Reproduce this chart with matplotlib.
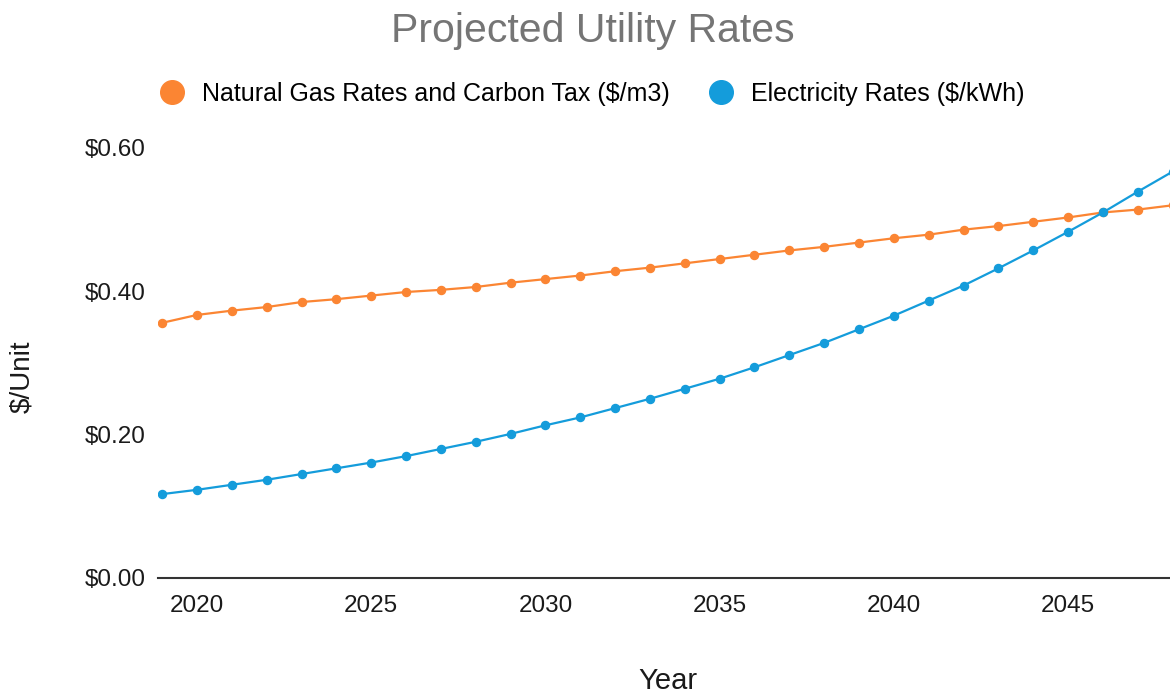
import numpy as np
import matplotlib
matplotlib.use("Agg")
from matplotlib import pyplot as plt
from matplotlib.ticker import FuncFormatter

# values
years = list(range(2019, 2049))
gas_rates = [0.356, 0.367, 0.373, 0.378, 0.385, 0.389, 0.394, 0.399, 0.402, 0.406,
             0.412, 0.417, 0.422, 0.428, 0.433, 0.439, 0.445, 0.451, 0.457, 0.462,
             0.468, 0.474, 0.479, 0.486, 0.491, 0.497, 0.503, 0.510, 0.514, 0.520]
elec_rates = [0.117, 0.123, 0.130, 0.137, 0.145, 0.153, 0.161, 0.170, 0.180, 0.190,
              0.201, 0.213, 0.224, 0.237, 0.250, 0.264, 0.278, 0.294, 0.311, 0.328,
              0.347, 0.366, 0.387, 0.408, 0.432, 0.457, 0.483, 0.510, 0.539, 0.567]
gas_label = "Natural Gas Rates and Carbon Tax ($/m3)"
elec_label = "Electricity Rates ($/kWh)"
y_ticks = [0.0, 0.2, 0.4, 0.6]
x_ticks = [2020, 2025, 2030, 2035, 2040, 2045]

plt.rcParams['font.family'] = ['Liberation Sans', 'DejaVu Sans']

fig = plt.figure(figsize=(11.7, 6.93), dpi=100)
ax = fig.add_axes([0.135, 0.166, 0.872, 0.6205])

orange = "#FB8533"
blue = "#149CDB"
ax.plot(years, gas_rates, color=orange, lw=1.6, marker="o", ms=5.8, label=gas_label)
ax.plot(years, elec_rates, color=blue, lw=1.6, marker="o", ms=5.8, label=elec_label)

ax.set_xlim(2018.88, 2048.16)
ax.set_ylim(0, 0.6)
ax.set_xticks(x_ticks)
ax.set_yticks(y_ticks)
ax.yaxis.set_major_formatter(FuncFormatter(lambda v, p: "${:.2f}".format(v)))
ax.tick_params(axis="both", length=0, labelsize=17.5, colors="#1a1a1a")
ax.tick_params(axis="x", pad=12)
ax.tick_params(axis="y", pad=9)

for side in ["top", "right", "left"]:
    ax.spines[side].set_visible(False)
ax.spines["bottom"].set_color("#333333")
ax.spines["bottom"].set_linewidth(1.5)

ax.set_xlabel("Year", fontsize=21, color="#1a1a1a", va="center")
ax.xaxis.set_label_coords(0.5, -0.24)
ax.set_ylabel("$/Unit", fontsize=20, color="#1a1a1a", va="center")
ax.yaxis.set_label_coords(-0.1333, 0.467)

fig.text(0.507, 0.955, "Projected Utility Rates", ha="center", va="center",
         fontsize=29.5, color="#757575")

handles = [plt.Line2D([], [], ls="", marker="o", ms=17, color=orange),
           plt.Line2D([], [], ls="", marker="o", ms=17, color=blue)]
fig.legend(handles, [gas_label, elec_label], loc="center", bbox_to_anchor=(0.505, 0.864),
           ncol=2, frameon=False, fontsize=18, handletextpad=0.6, columnspacing=1.45,
           handlelength=1.2)

fig.savefig("out.png", dpi=100)
